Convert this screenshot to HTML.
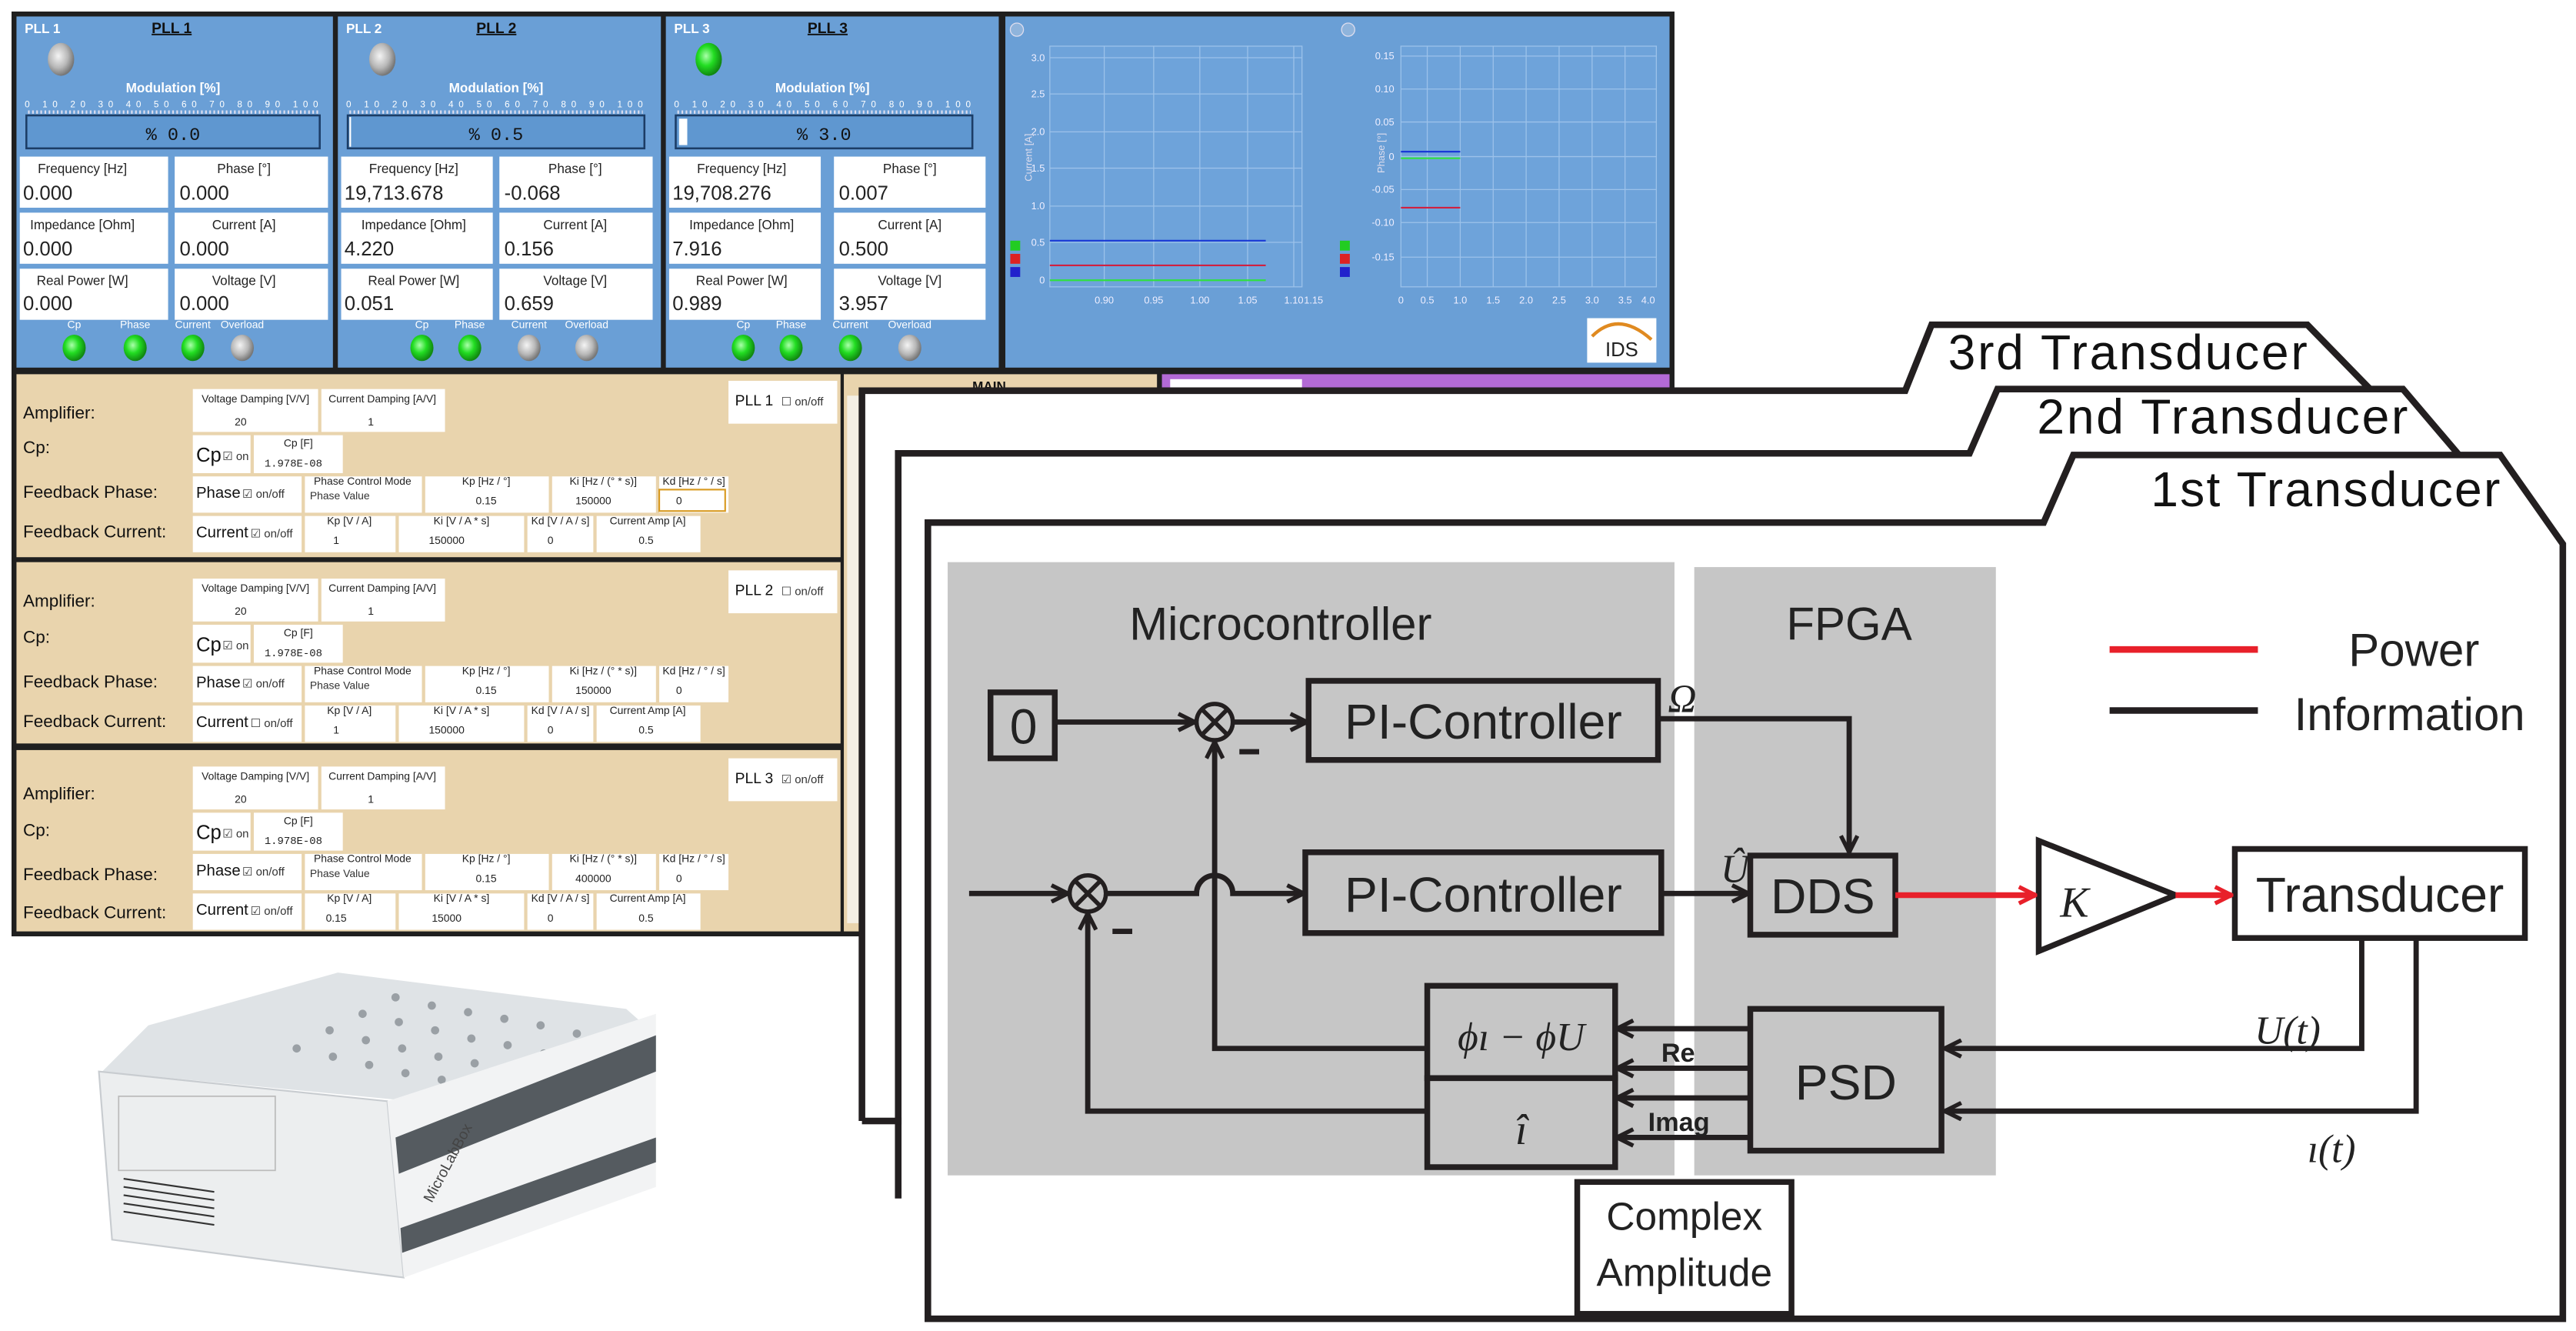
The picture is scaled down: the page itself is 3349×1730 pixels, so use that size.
<!DOCTYPE html>
<html><head><meta charset="utf-8"><style>
html,body{margin:0;padding:0;background:#fff;}
svg{display:block;}
text{font-family:"Liberation Sans",sans-serif;}
.m{font-family:"Liberation Mono",monospace;}
.s{font-family:"Liberation Serif",serif;font-style:italic;}
</style></head><body>
<svg width="3349" height="1730" viewBox="0 0 1563 807.4" xmlns="http://www.w3.org/2000/svg">
<defs>
<marker id="ab" viewBox="0 0 12 12" refX="11" refY="6" markerWidth="12" markerHeight="12" orient="auto" markerUnits="userSpaceOnUse"><path d="M1,1 L11,6 L1,11" fill="none" stroke="#231f20" stroke-width="2.5"/></marker>
<marker id="ar" viewBox="0 0 12 12" refX="11" refY="6" markerWidth="12" markerHeight="12" orient="auto" markerUnits="userSpaceOnUse"><path d="M1,1 L11,6 L1,11" fill="none" stroke="#e8202a" stroke-width="2.5"/></marker>
<radialGradient id="gG" cx="40%" cy="40%" r="60%"><stop offset="0" stop-color="#aaffaa"/><stop offset="0.5" stop-color="#22dd22"/><stop offset="1" stop-color="#118811"/></radialGradient>
<radialGradient id="gY" cx="40%" cy="40%" r="60%"><stop offset="0" stop-color="#f4f4f4"/><stop offset="0.6" stop-color="#b8b8b8"/><stop offset="1" stop-color="#777"/></radialGradient>
</defs>

<!-- ================= SCREENSHOT ================= -->
<rect x="7" y="7" width="1009" height="561" fill="#1f1f1f"/>
<g transform="translate(10,10)">
<rect x="0" y="0" width="192" height="213" fill="#6a9fd6"/>
<text x="5" y="10" font-size="8" fill="#fff" font-weight="bold">PLL 1</text>
<text x="82" y="10" font-size="9" fill="#111" font-weight="bold" text-decoration="underline">PLL 1</text>
<ellipse cx="27" cy="26" rx="8" ry="10" fill="url(#gY)"/>
<text x="95" y="46" font-size="8" fill="#fff" font-weight="bold" text-anchor="middle">Modulation [%]</text>
<text x="5" y="55" font-size="5.5" fill="#fff" textLength="178">0 10 20 30 40 50 60 70 80 90 100</text>
<line x1="7" y1="58" x2="183" y2="58" stroke="#dde" stroke-width="2" stroke-dasharray="1,1.5"/>
<rect x="6" y="60" width="178" height="20" fill="#5f97d0" stroke="#1c3d66" stroke-width="1.2"/>
<text x="95" y="75" font-size="11" class="m" fill="#111" text-anchor="middle">%  0.0</text>
<g font-size="8" fill="#222" text-anchor="middle">
<rect x="2" y="85" width="90" height="31" fill="#fff"/><rect x="96" y="85" width="93" height="31" fill="#fff"/>
<rect x="2" y="119" width="90" height="31" fill="#fff"/><rect x="96" y="119" width="93" height="31" fill="#fff"/>
<rect x="2" y="153" width="90" height="31" fill="#fff"/><rect x="96" y="153" width="93" height="31" fill="#fff"/>
<text x="40" y="95">Frequency [Hz]</text><text x="138" y="95">Phase [°]</text>
<text x="40" y="129">Impedance [Ohm]</text><text x="138" y="129">Current [A]</text>
<text x="40" y="163">Real Power [W]</text><text x="138" y="163">Voltage [V]</text>
</g>
<g font-size="12" class="m" fill="#222">
<text x="4" y="111">0.000</text><text x="99" y="111">0.000</text>
<text x="4" y="145">0.000</text><text x="99" y="145">0.000</text>
<text x="4" y="178">0.000</text><text x="99" y="178">0.000</text>
</g>
<g font-size="6.5" fill="#fff" text-anchor="middle"><text x="35" y="189">Cp</text><text x="72" y="189">Phase</text><text x="107" y="189">Current</text><text x="137" y="189">Overload</text></g>
<ellipse cx="35" cy="201" rx="7" ry="8" fill="url(#gG)"/><ellipse cx="72" cy="201" rx="7" ry="8" fill="url(#gG)"/><ellipse cx="107" cy="201" rx="7" ry="8" fill="url(#gG)"/><ellipse cx="137" cy="201" rx="7" ry="8" fill="url(#gY)"/>
</g>
<g transform="translate(205,10)">
<rect x="0" y="0" width="196" height="213" fill="#6a9fd6"/>
<text x="5" y="10" font-size="8" fill="#fff" font-weight="bold">PLL 2</text>
<text x="84" y="10" font-size="9" fill="#111" font-weight="bold" text-decoration="underline">PLL 2</text>
<ellipse cx="27" cy="26" rx="8" ry="10" fill="url(#gY)"/>
<text x="96" y="46" font-size="8" fill="#fff" font-weight="bold" text-anchor="middle">Modulation [%]</text>
<text x="5" y="55" font-size="5.5" fill="#fff" textLength="180">0 10 20 30 40 50 60 70 80 90 100</text>
<line x1="7" y1="58" x2="185" y2="58" stroke="#dde" stroke-width="2" stroke-dasharray="1,1.5"/>
<rect x="6" y="60" width="180" height="20" fill="#5f97d0" stroke="#1c3d66" stroke-width="1.2"/>
<rect x="7" y="61" width="1" height="18" fill="#fff"/>
<text x="96" y="75" font-size="11" class="m" fill="#111" text-anchor="middle">%  0.5</text>
<g font-size="8" fill="#222" text-anchor="middle">
<rect x="2" y="85" width="92" height="31" fill="#fff"/><rect x="98" y="85" width="93" height="31" fill="#fff"/>
<rect x="2" y="119" width="92" height="31" fill="#fff"/><rect x="98" y="119" width="93" height="31" fill="#fff"/>
<rect x="2" y="153" width="92" height="31" fill="#fff"/><rect x="98" y="153" width="93" height="31" fill="#fff"/>
<text x="46" y="95">Frequency [Hz]</text><text x="144" y="95">Phase [°]</text>
<text x="46" y="129">Impedance [Ohm]</text><text x="144" y="129">Current [A]</text>
<text x="46" y="163">Real Power [W]</text><text x="144" y="163">Voltage [V]</text>
</g>
<g font-size="12" class="m" fill="#222">
<text x="4" y="111">19,713.678</text><text x="101" y="111">-0.068</text>
<text x="4" y="145">4.220</text><text x="101" y="145">0.156</text>
<text x="4" y="178">0.051</text><text x="101" y="178">0.659</text>
</g>
<g font-size="6.5" fill="#fff" text-anchor="middle"><text x="51" y="189">Cp</text><text x="80" y="189">Phase</text><text x="116" y="189">Current</text><text x="151" y="189">Overload</text></g>
<ellipse cx="51" cy="201" rx="7" ry="8" fill="url(#gG)"/><ellipse cx="80" cy="201" rx="7" ry="8" fill="url(#gG)"/><ellipse cx="116" cy="201" rx="7" ry="8" fill="url(#gY)"/><ellipse cx="151" cy="201" rx="7" ry="8" fill="url(#gY)"/>
</g>
<g transform="translate(404,10)">
<rect x="0" y="0" width="202" height="213" fill="#6a9fd6"/>
<text x="5" y="10" font-size="8" fill="#fff" font-weight="bold">PLL 3</text>
<text x="86" y="10" font-size="9" fill="#111" font-weight="bold" text-decoration="underline">PLL 3</text>
<ellipse cx="26" cy="26" rx="8" ry="10" fill="url(#gG)"/>
<text x="95" y="46" font-size="8" fill="#fff" font-weight="bold" text-anchor="middle">Modulation [%]</text>
<text x="5" y="55" font-size="5.5" fill="#fff" textLength="180">0 10 20 30 40 50 60 70 80 90 100</text>
<line x1="7" y1="58" x2="185" y2="58" stroke="#dde" stroke-width="2" stroke-dasharray="1,1.5"/>
<rect x="6" y="60" width="180" height="20" fill="#5f97d0" stroke="#1c3d66" stroke-width="1.2"/>
<rect x="8" y="62" width="5" height="16" fill="#fff"/>
<text x="96" y="75" font-size="11" class="m" fill="#111" text-anchor="middle">%  3.0</text>
<g font-size="8" fill="#222" text-anchor="middle">
<rect x="2" y="85" width="92" height="31" fill="#fff"/><rect x="102" y="85" width="92" height="31" fill="#fff"/>
<rect x="2" y="119" width="92" height="31" fill="#fff"/><rect x="102" y="119" width="92" height="31" fill="#fff"/>
<rect x="2" y="153" width="92" height="31" fill="#fff"/><rect x="102" y="153" width="92" height="31" fill="#fff"/>
<text x="46" y="95">Frequency [Hz]</text><text x="148" y="95">Phase [°]</text>
<text x="46" y="129">Impedance [Ohm]</text><text x="148" y="129">Current [A]</text>
<text x="46" y="163">Real Power [W]</text><text x="148" y="163">Voltage [V]</text>
</g>
<g font-size="12" class="m" fill="#222">
<text x="4" y="111">19,708.276</text><text x="105" y="111">0.007</text>
<text x="4" y="145">7.916</text><text x="105" y="145">0.500</text>
<text x="4" y="178">0.989</text><text x="105" y="178">3.957</text>
</g>
<g font-size="6.5" fill="#fff" text-anchor="middle"><text x="47" y="189">Cp</text><text x="76" y="189">Phase</text><text x="112" y="189">Current</text><text x="148" y="189">Overload</text></g>
<ellipse cx="47" cy="201" rx="7" ry="8" fill="url(#gG)"/><ellipse cx="76" cy="201" rx="7" ry="8" fill="url(#gG)"/><ellipse cx="112" cy="201" rx="7" ry="8" fill="url(#gG)"/><ellipse cx="148" cy="201" rx="7" ry="8" fill="url(#gY)"/>
</g>
<!-- charts -->
<rect x="610" y="10" width="403" height="213" fill="#6a9fd6"/>
<g stroke="#9cc2ea" stroke-width="0.6">
<rect x="637" y="28" width="153" height="146" fill="#6ea3da"/>
<line x1="637" y1="35" x2="790" y2="35"/><line x1="637" y1="57" x2="790" y2="57"/><line x1="637" y1="80" x2="790" y2="80"/><line x1="637" y1="102" x2="790" y2="102"/><line x1="637" y1="125" x2="790" y2="125"/><line x1="637" y1="147" x2="790" y2="147"/>
<line x1="670" y1="28" x2="670" y2="174"/><line x1="700" y1="28" x2="700" y2="174"/><line x1="728" y1="28" x2="728" y2="174"/><line x1="757" y1="28" x2="757" y2="174"/><line x1="785" y1="28" x2="785" y2="174"/>
<rect x="850" y="28" width="155" height="146" fill="#6ea3da"/>
<line x1="850" y1="34" x2="1005" y2="34"/><line x1="850" y1="54" x2="1005" y2="54"/><line x1="850" y1="74" x2="1005" y2="74"/><line x1="850" y1="95" x2="1005" y2="95"/><line x1="850" y1="115" x2="1005" y2="115"/><line x1="850" y1="135" x2="1005" y2="135"/><line x1="850" y1="156" x2="1005" y2="156"/>
<line x1="866" y1="28" x2="866" y2="174"/><line x1="886" y1="28" x2="886" y2="174"/><line x1="906" y1="28" x2="906" y2="174"/><line x1="926" y1="28" x2="926" y2="174"/><line x1="946" y1="28" x2="946" y2="174"/><line x1="966" y1="28" x2="966" y2="174"/><line x1="986" y1="28" x2="986" y2="174"/>
</g>
<g font-size="6" fill="#eef" text-anchor="end">
<text x="634" y="37">3.0</text><text x="634" y="59">2.5</text><text x="634" y="82">2.0</text><text x="634" y="104">1.5</text><text x="634" y="127">1.0</text><text x="634" y="149">0.5</text><text x="634" y="172">0</text>
<text x="846" y="36">0.15</text><text x="846" y="56">0.10</text><text x="846" y="76">0.05</text><text x="846" y="97">0</text><text x="846" y="117">-0.05</text><text x="846" y="137">-0.10</text><text x="846" y="158">-0.15</text>
</g>
<g font-size="6" fill="#eef" text-anchor="middle">
<text x="670" y="184">0.90</text><text x="700" y="184">0.95</text><text x="728" y="184">1.00</text><text x="757" y="184">1.05</text><text x="785" y="184">1.10</text><text x="797" y="184">1.15</text>
<text x="850" y="184">0</text><text x="866" y="184">0.5</text><text x="886" y="184">1.0</text><text x="906" y="184">1.5</text><text x="926" y="184">2.0</text><text x="946" y="184">2.5</text><text x="966" y="184">3.0</text><text x="986" y="184">3.5</text><text x="1000" y="184">4.0</text>
</g>
<text transform="translate(626,110) rotate(-90)" font-size="6" fill="#dde">Current [A]</text>
<text transform="translate(840,105) rotate(-90)" font-size="6" fill="#dde">Phase [°]</text>
<line x1="637" y1="146" x2="768" y2="146" stroke="#1a3ad6" stroke-width="1"/>
<line x1="637" y1="161" x2="768" y2="161" stroke="#d02040" stroke-width="1"/>
<line x1="637" y1="170" x2="768" y2="170" stroke="#30e040" stroke-width="1"/>
<line x1="850" y1="92" x2="886" y2="92" stroke="#1a3ad6" stroke-width="1"/>
<line x1="850" y1="96" x2="886" y2="96" stroke="#30e040" stroke-width="1"/>
<line x1="850" y1="126" x2="886" y2="126" stroke="#d02040" stroke-width="1"/>
<rect x="613" y="146" width="6" height="6" fill="#2c2"/><rect x="613" y="154" width="6" height="6" fill="#d22"/><rect x="613" y="162" width="6" height="6" fill="#22c"/>
<rect x="813" y="146" width="6" height="6" fill="#2c2"/><rect x="813" y="154" width="6" height="6" fill="#d22"/><rect x="813" y="162" width="6" height="6" fill="#22c"/>
<circle cx="617" cy="18" r="4" fill="#8fb4dc" stroke="#dde" stroke-width="0.6"/><circle cx="818" cy="18" r="4" fill="#8fb4dc" stroke="#dde" stroke-width="0.6"/>
<rect x="963" y="193" width="42" height="27" fill="#fff"/>
<path d="M966,204 Q982,188 1002,206" fill="none" stroke="#e08a20" stroke-width="2"/>
<text x="984" y="216" font-size="12" fill="#222" text-anchor="middle">IDS</text>

<!-- tan sections -->
<rect x="10" y="227" width="500" height="111" fill="#e9d4ad"/>
<rect x="10" y="341" width="500" height="110" fill="#e9d4ad"/>
<rect x="10" y="455" width="500" height="110" fill="#e9d4ad"/>
<rect x="512" y="227" width="190" height="338" fill="#e9d4ad"/>
<rect x="705" y="227" width="308" height="12" fill="#b36ad6"/>
<rect x="710" y="230" width="80" height="8" fill="#fff"/>
<text x="590" y="237" font-size="8" font-weight="bold" fill="#111">MAIN</text>
<rect x="514" y="240" width="9" height="320" fill="#f4efe4"/>

<g font-size="10.5" fill="#111">
<text x="14" y="254">Amplifier:</text><text x="14" y="275">Cp:</text><text x="14" y="302">Feedback Phase:</text><text x="14" y="326">Feedback Current:</text>
<text x="14" y="368">Amplifier:</text><text x="14" y="390">Cp:</text><text x="14" y="417">Feedback Phase:</text><text x="14" y="441">Feedback Current:</text>
<text x="14" y="485">Amplifier:</text><text x="14" y="507">Cp:</text><text x="14" y="534">Feedback Phase:</text><text x="14" y="557">Feedback Current:</text>
</g>
<g transform="translate(0,0)">
<g fill="#fff"><rect x="117" y="236" width="76" height="26"/><rect x="195" y="236" width="75" height="26"/><rect x="117" y="264" width="35" height="23"/><rect x="154" y="264" width="54" height="23"/><rect x="117" y="289" width="66" height="22"/><rect x="185" y="289" width="71" height="22"/><rect x="258" y="289" width="75" height="22"/><rect x="335" y="289" width="63" height="22"/><rect x="400" y="289" width="42" height="22"/><rect x="117" y="313" width="66" height="22"/><rect x="185" y="313" width="55" height="22"/><rect x="242" y="313" width="76" height="22"/><rect x="320" y="313" width="40" height="22"/><rect x="362" y="313" width="63" height="22"/><rect x="442" y="231" width="66" height="26"/></g>
<g font-size="6.5" fill="#222" text-anchor="middle"><text x="155" y="244">Voltage Damping [V/V]</text><text x="232" y="244">Current Damping [A/V]</text><text x="181" y="271">Cp [F]</text><text x="220" y="294">Phase Control Mode</text><text x="295" y="294">Kp [Hz / °]</text><text x="366" y="294">Ki [Hz / (° * s)]</text><text x="421" y="294">Kd [Hz / ° / s]</text><text x="212" y="318">Kp [V / A]</text><text x="280" y="318">Ki [V / A * s]</text><text x="340" y="318">Kd [V / A / s]</text><text x="393" y="318">Current Amp [A]</text>
<text x="146" y="258">20</text><text x="225" y="258">1</text><text x="178" y="283" class="m">1.978E-08</text><text x="295" y="306">0.15</text><text x="360" y="306">150000</text><text x="412" y="306">0</text><text x="204" y="330">1</text><text x="271" y="330">150000</text><text x="334" y="330">0</text><text x="392" y="330">0.5</text></g>
<text x="188" y="303" font-size="6.5" fill="#333">Phase Value</text>
<text x="119" y="280" font-size="12" fill="#111">Cp</text><text x="135" y="279" font-size="7" fill="#333">☑ on</text>
<text x="119" y="302" font-size="9.5" fill="#111">Phase</text><text x="147" y="302" font-size="7" fill="#333">☑ on/off</text>
<text x="119" y="326" font-size="9.5" fill="#111">Current</text><text x="152" y="326" font-size="7" fill="#333">☑ on/off</text>
<text x="446" y="246" font-size="9" fill="#111">PLL 1</text><text x="474" y="246" font-size="7" fill="#333">☐ on/off</text>
<rect x="400" y="297" width="40" height="13" fill="none" stroke="#d89a20" stroke-width="1"/>
</g>
<g transform="translate(0,115)">
<g fill="#fff"><rect x="117" y="236" width="76" height="26"/><rect x="195" y="236" width="75" height="26"/><rect x="117" y="264" width="35" height="23"/><rect x="154" y="264" width="54" height="23"/><rect x="117" y="289" width="66" height="22"/><rect x="185" y="289" width="71" height="22"/><rect x="258" y="289" width="75" height="22"/><rect x="335" y="289" width="63" height="22"/><rect x="400" y="289" width="42" height="22"/><rect x="117" y="313" width="66" height="22"/><rect x="185" y="313" width="55" height="22"/><rect x="242" y="313" width="76" height="22"/><rect x="320" y="313" width="40" height="22"/><rect x="362" y="313" width="63" height="22"/><rect x="442" y="231" width="66" height="26"/></g>
<g font-size="6.5" fill="#222" text-anchor="middle"><text x="155" y="244">Voltage Damping [V/V]</text><text x="232" y="244">Current Damping [A/V]</text><text x="181" y="271">Cp [F]</text><text x="220" y="294">Phase Control Mode</text><text x="295" y="294">Kp [Hz / °]</text><text x="366" y="294">Ki [Hz / (° * s)]</text><text x="421" y="294">Kd [Hz / ° / s]</text><text x="212" y="318">Kp [V / A]</text><text x="280" y="318">Ki [V / A * s]</text><text x="340" y="318">Kd [V / A / s]</text><text x="393" y="318">Current Amp [A]</text>
<text x="146" y="258">20</text><text x="225" y="258">1</text><text x="178" y="283" class="m">1.978E-08</text><text x="295" y="306">0.15</text><text x="360" y="306">150000</text><text x="412" y="306">0</text><text x="204" y="330">1</text><text x="271" y="330">150000</text><text x="334" y="330">0</text><text x="392" y="330">0.5</text></g>
<text x="188" y="303" font-size="6.5" fill="#333">Phase Value</text>
<text x="119" y="280" font-size="12" fill="#111">Cp</text><text x="135" y="279" font-size="7" fill="#333">☑ on</text>
<text x="119" y="302" font-size="9.5" fill="#111">Phase</text><text x="147" y="302" font-size="7" fill="#333">☑ on/off</text>
<text x="119" y="326" font-size="9.5" fill="#111">Current</text><text x="152" y="326" font-size="7" fill="#333">☐ on/off</text>
<text x="446" y="246" font-size="9" fill="#111">PLL 2</text><text x="474" y="246" font-size="7" fill="#333">☐ on/off</text>
</g>
<g transform="translate(0,229)">
<g fill="#fff"><rect x="117" y="236" width="76" height="26"/><rect x="195" y="236" width="75" height="26"/><rect x="117" y="264" width="35" height="23"/><rect x="154" y="264" width="54" height="23"/><rect x="117" y="289" width="66" height="22"/><rect x="185" y="289" width="71" height="22"/><rect x="258" y="289" width="75" height="22"/><rect x="335" y="289" width="63" height="22"/><rect x="400" y="289" width="42" height="22"/><rect x="117" y="313" width="66" height="22"/><rect x="185" y="313" width="55" height="22"/><rect x="242" y="313" width="76" height="22"/><rect x="320" y="313" width="40" height="22"/><rect x="362" y="313" width="63" height="22"/><rect x="442" y="231" width="66" height="26"/></g>
<g font-size="6.5" fill="#222" text-anchor="middle"><text x="155" y="244">Voltage Damping [V/V]</text><text x="232" y="244">Current Damping [A/V]</text><text x="181" y="271">Cp [F]</text><text x="220" y="294">Phase Control Mode</text><text x="295" y="294">Kp [Hz / °]</text><text x="366" y="294">Ki [Hz / (° * s)]</text><text x="421" y="294">Kd [Hz / ° / s]</text><text x="212" y="318">Kp [V / A]</text><text x="280" y="318">Ki [V / A * s]</text><text x="340" y="318">Kd [V / A / s]</text><text x="393" y="318">Current Amp [A]</text>
<text x="146" y="258">20</text><text x="225" y="258">1</text><text x="178" y="283" class="m">1.978E-08</text><text x="295" y="306">0.15</text><text x="360" y="306">400000</text><text x="412" y="306">0</text><text x="204" y="330">0.15</text><text x="271" y="330">15000</text><text x="334" y="330">0</text><text x="392" y="330">0.5</text></g>
<text x="188" y="303" font-size="6.5" fill="#333">Phase Value</text>
<text x="119" y="280" font-size="12" fill="#111">Cp</text><text x="135" y="279" font-size="7" fill="#333">☑ on</text>
<text x="119" y="302" font-size="9.5" fill="#111">Phase</text><text x="147" y="302" font-size="7" fill="#333">☑ on/off</text>
<text x="119" y="326" font-size="9.5" fill="#111">Current</text><text x="152" y="326" font-size="7" fill="#333">☑ on/off</text>
<text x="446" y="246" font-size="9" fill="#111">PLL 3</text><text x="474" y="246" font-size="7" fill="#333">☑ on/off</text>
</g>

<!-- ================= MicroLabBox device ================= -->
<polygon points="90,622 205,590 380,612 398,628 250,668 62,650" fill="#dfe3e6"/>
<g fill="#9aa0a5">
<circle cx="240" cy="605" r="2.5"/><circle cx="262" cy="610" r="2.5"/><circle cx="284" cy="614" r="2.5"/><circle cx="306" cy="618" r="2.5"/><circle cx="328" cy="622" r="2.5"/><circle cx="350" cy="627" r="2.5"/>
<circle cx="220" cy="615" r="2.5"/><circle cx="242" cy="620" r="2.5"/><circle cx="264" cy="625" r="2.5"/><circle cx="286" cy="630" r="2.5"/><circle cx="308" cy="634" r="2.5"/><circle cx="330" cy="639" r="2.5"/>
<circle cx="200" cy="625" r="2.5"/><circle cx="222" cy="631" r="2.5"/><circle cx="244" cy="636" r="2.5"/><circle cx="266" cy="641" r="2.5"/><circle cx="288" cy="645" r="2.5"/><circle cx="310" cy="650" r="2.5"/>
<circle cx="180" cy="636" r="2.5"/><circle cx="202" cy="641" r="2.5"/><circle cx="224" cy="646" r="2.5"/><circle cx="246" cy="651" r="2.5"/><circle cx="268" cy="655" r="2.5"/>
</g>
<polygon points="60,650 235,668 245,775 68,752" fill="#eceeef" stroke="#c8ccd0" stroke-width="1"/>
<polygon points="235,668 398,615 398,720 245,775" fill="#f2f3f4"/>
<polygon points="240,690 398,628 398,650 242,712" fill="#555b60"/>
<polygon points="243,745 398,690 398,705 244,760" fill="#555b60"/>
<g stroke="#333" stroke-width="1"><line x1="75" y1="715" x2="130" y2="723"/><line x1="75" y1="720" x2="130" y2="728"/><line x1="75" y1="725" x2="130" y2="733"/><line x1="75" y1="730" x2="130" y2="738"/><line x1="75" y1="735" x2="130" y2="743"/></g>
<rect x="72" y="665" width="95" height="45" fill="none" stroke="#bbb" stroke-width="0.8"/>
<text transform="translate(262,730) rotate(-62)" font-size="9" fill="#444">MicroLabBox</text>

<!-- ================= FOLDERS ================= -->
<g stroke="#231f20" stroke-width="4" fill="#fff" stroke-linejoin="miter">
<path d="M523,680 L523,237 L1156,237 L1172,197 L1400,197 L1438,236"/>
<path d="M545,727 L545,275 L1195,275 L1212,236 L1458,236 L1492,276"/>
<path d="M563,800 L563,317 L1240,317 L1258,276 L1517,276 L1555,330 L1555,800 Z"/>
</g>
<rect x="523" y="678" width="24" height="4" fill="#231f20"/>
<g font-size="30" fill="#111">
<text x="1182" y="224" textLength="218">3rd Transducer</text>
<text x="1236" y="263" textLength="225">2nd Transducer</text>
<text x="1305" y="307" textLength="212">1st Transducer</text>
</g>

<!-- ================= BLOCK DIAGRAM ================= -->
<rect x="575" y="341" width="441" height="372" fill="#c6c6c6"/>
<rect x="1028" y="344" width="183" height="369" fill="#c6c6c6"/>
<g font-size="28" fill="#222" text-anchor="middle">
<text x="777" y="388">Microcontroller</text>
<text x="1122" y="388">FPGA</text>
</g>
<line x1="1280" y1="394" x2="1370" y2="394" stroke="#e8202a" stroke-width="4"/>
<line x1="1280" y1="431" x2="1370" y2="431" stroke="#231f20" stroke-width="4"/>
<text x="1425" y="404" font-size="28" fill="#222">Power</text>
<text x="1392" y="443" font-size="28" fill="#222">Information</text>

<g stroke="#231f20" stroke-width="3.5" fill="none">
<rect x="601" y="420" width="39" height="40"/>
<rect x="794" y="413" width="212" height="48"/>
<rect x="792" y="517" width="216" height="49"/>
<rect x="1062" y="519" width="88" height="48"/>
<rect x="1356" y="515" width="176" height="54" fill="#fff"/>
<rect x="1062" y="612" width="116" height="86"/>
<rect x="866" y="598" width="114" height="56"/>
<rect x="866" y="654" width="114" height="54"/>
<rect x="957" y="717" width="130" height="80" fill="#fff"/>
<polygon points="1237,510 1237,577 1320,543" fill="#fff"/>
</g>
<g stroke="#231f20" stroke-width="2.6" fill="none">
<circle cx="737" cy="438" r="11"/><line x1="729" y1="430" x2="745" y2="446"/><line x1="745" y1="430" x2="729" y2="446"/>
<circle cx="660" cy="542" r="11"/><line x1="652" y1="534" x2="668" y2="550"/><line x1="668" y1="534" x2="652" y2="550"/>
</g>
<g stroke="#231f20" stroke-width="3.2" fill="none">
<line x1="640" y1="438" x2="725" y2="438" marker-end="url(#ab)"/>
<line x1="748" y1="438" x2="793" y2="438" marker-end="url(#ab)"/>
<path d="M1006,436 L1122,436 L1122,517" marker-end="url(#ab)"/>
<line x1="588" y1="542" x2="648" y2="542" marker-end="url(#ab)"/>
<path d="M671,542 L726,542 A11,11 0 0 1 748,542 L791,542" marker-end="url(#ab)"/>
<line x1="1008" y1="542" x2="1061" y2="542" marker-end="url(#ab)"/>
<path d="M866,636 L737,636 L737,450" marker-end="url(#ab)"/>
<path d="M866,674 L660,674 L660,554" marker-end="url(#ab)"/>
<path d="M1433,569 L1433,636 L1180,636" marker-end="url(#ab)"/>
<path d="M1466,569 L1466,674 L1180,674" marker-end="url(#ab)"/>
<line x1="1062" y1="624" x2="981" y2="624" marker-end="url(#ab)"/>
<line x1="1062" y1="648" x2="981" y2="648" marker-end="url(#ab)"/>
<line x1="1062" y1="666" x2="981" y2="666" marker-end="url(#ab)"/>
<line x1="1062" y1="690" x2="981" y2="690" marker-end="url(#ab)"/>
<line x1="752" y1="456" x2="764" y2="456"/>
<line x1="675" y1="565" x2="687" y2="565"/>
</g>
<g stroke="#e8202a" stroke-width="3.5" fill="none">
<line x1="1150" y1="543" x2="1235" y2="543" marker-end="url(#ar)"/>
<line x1="1320" y1="543" x2="1354" y2="543" marker-end="url(#ar)"/>
</g>
<g fill="#222" font-size="30" text-anchor="middle">
<text x="621" y="451">0</text>
<text x="900" y="448">PI-Controller</text>
<text x="900" y="553">PI-Controller</text>
<text x="1106" y="554">DDS</text>
<text x="1444" y="553">Transducer</text>
<text x="1120" y="667">PSD</text>
</g>
<g fill="#222" font-size="24" text-anchor="middle">
<text x="1022" y="746">Complex</text>
<text x="1022" y="780">Amplitude</text>
</g>
<g fill="#222">
<text x="1012" y="432" font-size="24" class="s">Ω</text>
<text x="1044" y="535" font-size="24" class="s">Û</text>
<text x="1250" y="556" font-size="26" class="s">K</text>
<text x="923" y="637" font-size="24" text-anchor="middle" class="s">ϕı − ϕU</text>
<text x="923" y="694" font-size="26" text-anchor="middle" class="s">î</text>
<text x="1368" y="633" font-size="24" class="s">U(t)</text>
<text x="1400" y="705" font-size="24" class="s">ı(t)</text>
</g>
<text x="1008" y="644" font-size="16" font-family="Liberation Serif" font-weight="bold" fill="#222">Re</text>
<text x="1000" y="686" font-size="16" font-family="Liberation Serif" font-weight="bold" fill="#222">Imag</text>
</svg>
</body></html>
